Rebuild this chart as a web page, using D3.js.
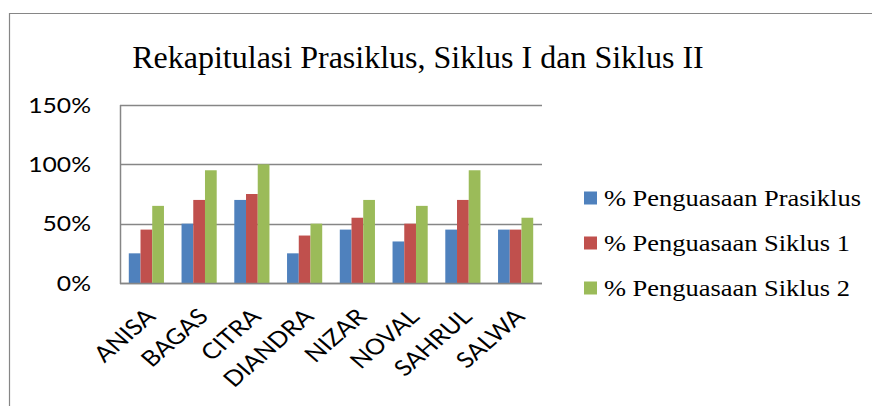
<!DOCTYPE html>
<html><head><meta charset="utf-8">
<script src="https://cdn.jsdelivr.net/npm/d3@7"></script>
<style>html,body{margin:0;padding:0;background:#fff;}</style>
</head><body><div id="chart"></div>
<script>
const categories = ["ANISA","BAGAS","CITRA","DIANDRA","NIZAR","NOVAL","SAHRUL","SALWA"];
const seriesNames = ["% Penguasaan Prasiklus","% Penguasaan Siklus 1","% Penguasaan Siklus 2"];
const prasiklus = [0.25,0.50,0.70,0.25,0.45,0.35,0.45,0.45];
const siklus1 = [0.45,0.70,0.75,0.40,0.55,0.50,0.70,0.45];
const siklus2 = [0.65,0.95,1.00,0.50,0.70,0.65,0.95,0.55];
const yTicks = [0,0.5,1,1.5];
const colors = ["#4F81BD","#C0504D","#9BBB59"];
const titleText = "Rekapitulasi Prasiklus, Siklus I dan Siklus II";

const W=872,H=406, SX=1.15;
const plot={l:120,r:542,t:105,b:283};
const svg=d3.select("#chart").append("svg").attr("width",W).attr("height",H);
svg.append("rect").attr("width",W).attr("height",H).attr("fill","#fff");
const grid="#868686";
const serif="'Liberation Serif','Times New Roman',serif";
const axisFont="Lato,'Open Sans',sans-serif";
// outer frame
svg.append("path").attr("d",`M9.5,${H} V13.5 H${W}`).attr("fill","none").attr("stroke",grid).attr("stroke-width",1.2);

const x=d3.scaleBand().domain(categories).range([plot.l,plot.r]).paddingInner(1/3).paddingOuter(1/6);
const xs=d3.scaleBand().domain([0,1,2]).range([0,x.bandwidth()]);
const y=d3.scaleLinear().domain([0,1.5]).range([plot.b,plot.t]);

// gridlines
svg.append("g").selectAll("line").data(yTicks).join("line")
  .attr("x1",plot.l).attr("x2",plot.r).attr("y1",d=>Math.round(y(d))+0.5).attr("y2",d=>Math.round(y(d))+0.5)
  .attr("stroke",grid).attr("stroke-width",1.5);
svg.append("line").attr("x1",plot.l+0.5).attr("x2",plot.l+0.5).attr("y1",plot.t).attr("y2",plot.b+1)
  .attr("stroke",grid).attr("stroke-width",1.5);

// bars
const series=[prasiklus,siklus1,siklus2];
series.forEach((vals,si)=>{
  svg.append("g").selectAll("rect").data(categories).join("rect")
    .attr("x",(c)=>x(c)+xs(si)).attr("width",xs.bandwidth())
    .attr("y",(c,i)=>y(vals[i])).attr("height",(c,i)=>y(0)-y(vals[i]))
    .attr("fill",colors[si]);
});
// baseline on top
svg.append("line").attr("x1",plot.l).attr("x2",plot.r).attr("y1",Math.round(y(0))+0.5).attr("y2",Math.round(y(0))+0.5)
  .attr("stroke",grid).attr("stroke-width",1.5);

// y labels
svg.append("g").selectAll("g").data(yTicks).join("g")
  .attr("transform",d=>`translate(91,${y(d)}) scale(${SX},1)`)
  .append("text").attr("text-anchor","end").attr("dy","0.35em")
  .attr("font-family",axisFont).attr("font-size",21.5).attr("fill","#000")
  .text(d=>d3.format(".0%")(d));

// x labels
svg.append("g").selectAll("g").data(categories).join("g")
  .attr("transform",c=>`translate(${x(c)+x.bandwidth()/2-2},${plot.b+24}) scale(${SX},1) rotate(-45)`)
  .append("text").attr("text-anchor","end").attr("dy","0.7em")
  .attr("font-family",axisFont).attr("font-size",22).attr("fill","#000")
  .text(c=>c);

// title
svg.append("text").attr("x",418).attr("y",68).attr("text-anchor","middle")
  .attr("font-family",serif).attr("font-size",32).attr("fill","#000")
  .text(titleText);

// legend
const legY=[198,243,288];
const leg=svg.append("g").selectAll("g").data(seriesNames).join("g")
  .attr("transform",(d,i)=>`translate(584,${legY[i]})`);
leg.append("rect").attr("x",0).attr("y",-6.5).attr("width",13).attr("height",13).attr("fill",(d,i)=>colors[i]);
leg.append("g").attr("transform",`translate(20,8) scale(${SX},1)`).append("text")
  .attr("font-family",serif).attr("font-size",23).attr("fill","#000").text(d=>d);
</script></body></html>
